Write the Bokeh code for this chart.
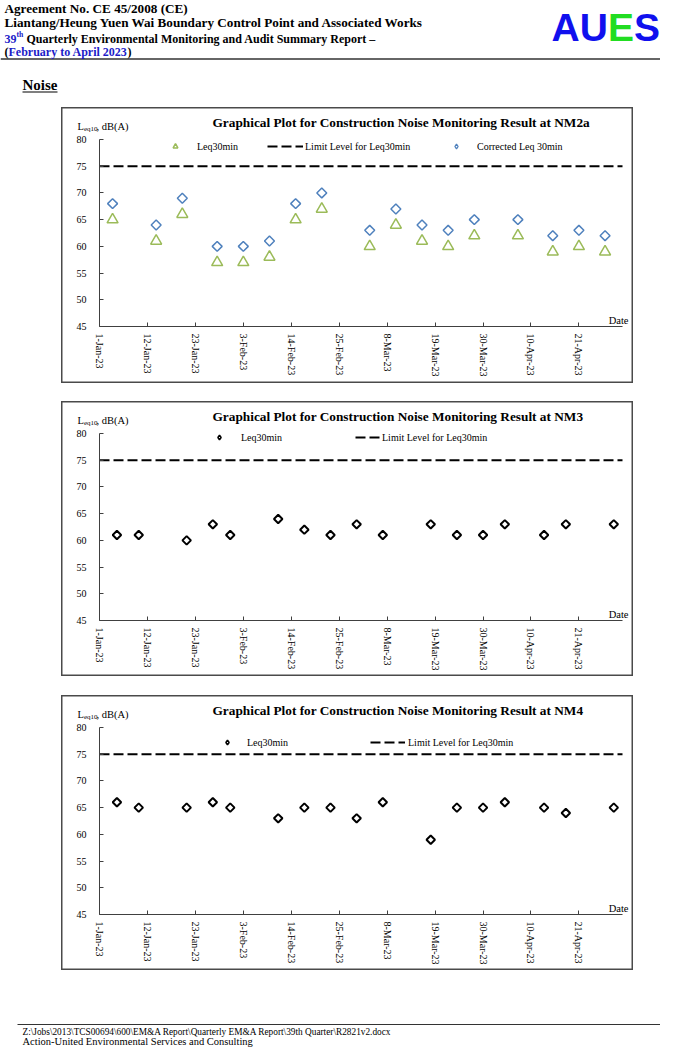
import math
import pandas as pd
from bokeh.plotting import figure
from bokeh.models import Range1d, FixedTicker, Legend, LegendItem, Label, Spacer
from bokeh.layouts import column, row
from bokeh.embed import file_html
from bokeh.resources import INLINE

SERIF = "Liberation Serif"
SANS = "Liberation Sans"

# ---------------- data ----------------
axis_start = "2023-01-01"
axis_end = "2023-05-01"
tick_dates = ["2023-01-01", "2023-01-12", "2023-01-23", "2023-02-03", "2023-02-14",
              "2023-02-25", "2023-03-08", "2023-03-19", "2023-03-30", "2023-04-10",
              "2023-04-21"]
tick_labels = ["1-Jan-23", "12-Jan-23", "23-Jan-23", "3-Feb-23", "14-Feb-23",
               "25-Feb-23", "8-Mar-23", "19-Mar-23", "30-Mar-23", "10-Apr-23",
               "21-Apr-23"]
y_ticks = [45, 50, 55, 60, 65, 70, 75, 80]
y_min, y_max = 45, 80
limit_level = 75

nm2a_dates = ["2023-01-04", "2023-01-14", "2023-01-20", "2023-01-28", "2023-02-03",
              "2023-02-09", "2023-02-15", "2023-02-21", "2023-03-04", "2023-03-10",
              "2023-03-16", "2023-03-22", "2023-03-28", "2023-04-07", "2023-04-15",
              "2023-04-21", "2023-04-27"]
nm2a_leq = [65, 61, 66, 57, 57, 58, 65, 67, 60, 64, 61, 60, 62, 62, 59, 60, 59]
nm2a_corrected = [68, 64, 69, 60, 60, 61, 68, 70, 63, 67, 64, 63, 65, 65, 62, 63, 62]

nm3_dates = ["2023-01-05", "2023-01-10", "2023-01-21", "2023-01-27", "2023-01-31",
             "2023-02-11", "2023-02-17", "2023-02-23", "2023-03-01", "2023-03-07",
             "2023-03-18", "2023-03-24", "2023-03-30", "2023-04-04", "2023-04-13",
             "2023-04-18", "2023-04-29"]
nm3_leq = [61, 61, 60, 63, 61, 64, 62, 61, 63, 61, 63, 61, 61, 63, 61, 63, 63]

nm4_dates = nm3_dates
nm4_leq = [66, 65, 65, 66, 65, 63, 65, 65, 63, 66, 59, 65, 65, 66, 65, 64, 65]

titles = ["Graphical Plot for Construction Noise Monitoring Result at NM2a",
          "Graphical Plot for Construction Noise Monitoring Result at NM3",
          "Graphical Plot for Construction Noise Monitoring Result at NM4"]

# ---------------- helpers ----------------
T0 = pd.Timestamp(axis_start)


def to_days(ds):
    return [(pd.Timestamp(d) - T0).days for d in ds]


X_END = to_days([axis_end])[0]
TICKS = to_days(tick_dates)
AXIS_COLOR = "#404040"
GREEN = "#9BBB59"
BLUE = "#4F81BD"

# chart geometry (pixels inside each boxed chart)
BOX_W = 572
PAD_L, PAD_R, PAD_T = 38, 11, 32
PLOT_W, PLOT_H = 523, 187


def lab(p, x, y, text, size, xo=0, yo=0, bold=False, align="left",
        baseline="middle", color="black", font=SERIF):
    p.add_layout(Label(x=x, y=y, x_offset=xo, y_offset=yo, text=text,
                       text_font=font, text_font_size=f"{size}px",
                       text_font_style="bold" if bold else "normal",
                       text_align=align, text_baseline=baseline,
                       text_color=color))


def one_legend(p, renderer, text, loc_x, loc_y, gw, standoff):
    lg = Legend(items=[LegendItem(label=text, renderers=[renderer])],
                location=(loc_x, loc_y), orientation="horizontal",
                glyph_width=gw, glyph_height=12, label_height=12,
                label_standoff=standoff, padding=0, margin=0, spacing=0,
                border_line_color=None, background_fill_alpha=0,
                inactive_fill_alpha=0,
                label_text_font=SERIF, label_text_font_size="10px",
                label_text_color="black")
    p.add_layout(lg)


def make_chart(title, box_h):
    px_day = PLOT_W / X_END
    px_db = PLOT_H / (y_max - y_min)
    x_lo = -PAD_L / px_day
    x_hi = X_END + PAD_R / px_day
    y_hi = y_max + PAD_T / px_db
    y_lo = y_min - (box_h - PAD_T - PLOT_H) / px_db
    p = figure(width=BOX_W, height=box_h, x_range=Range1d(x_lo, x_hi),
               y_range=Range1d(y_lo, y_hi), output_backend="svg",
               toolbar_location=None, min_border=0)
    p.outline_line_color = "#4a4a4a"
    p.outline_line_width = 2
    p.grid.visible = False
    p.background_fill_color = "white"
    p.border_fill_color = "white"

    xa = p.xaxis[0]
    xa.fixed_location = y_min
    xa.bounds = (0, X_END)
    xa.ticker = FixedTicker(ticks=TICKS)
    xa.major_label_overrides = {t: l for t, l in zip(TICKS, tick_labels)}
    xa.major_label_orientation = -math.pi / 2
    xa.major_tick_in = 4
    xa.major_tick_out = 0
    xa.minor_tick_line_color = None
    xa.major_label_standoff = 7
    ya = p.yaxis[0]
    ya.fixed_location = 0
    ya.bounds = (y_min, y_max)
    ya.ticker = FixedTicker(ticks=y_ticks)
    ya.major_tick_in = 4
    ya.major_tick_out = 0
    ya.minor_tick_line_color = None
    ya.major_label_standoff = 13
    for ax in (xa, ya):
        ax.axis_line_color = AXIS_COLOR
        ax.major_tick_line_color = AXIS_COLOR
        ax.major_label_text_font = SERIF
        ax.major_label_text_font_size = "10px"
        ax.major_label_text_color = "black"

    # title and axis captions
    lab(p, 0, y_max, title, 13.3, xo=113, yo=17, bold=True)
    lab(p, 0, y_max, "L", 10.5, xo=-22, yo=13)
    lab(p, 0, y_max, "eq10", 7, xo=-15.5, yo=10.5)
    lab(p, 0, y_max, ", dB(A)", 10.5, xo=-3, yo=13)
    lab(p, X_END, y_min, "Date", 10.5, xo=6, yo=6, align="right")

    limit = p.line([0, X_END], [limit_level, limit_level], line_color="black",
                   line_width=2, line_dash="10 4")
    return p, limit


def diamond_key(p, xs, ys, color, lw, size):
    # hidden copy of a series, drawn only as its legend key (a true diamond)
    return p.scatter(xs, ys, marker="diamond", size=size, line_color=color,
                     fill_color=None, line_width=lw, visible=False)


# ---------------- chart 1: NM2a ----------------
c1, lim1 = make_chart(titles[0], 276)
x1 = to_days(nm2a_dates)
r_tri = c1.scatter(x1, nm2a_leq, marker="triangle", size=11,
                   line_color=GREEN, fill_color=None, line_width=1.5)
r_dia = c1.scatter(x1, nm2a_corrected, marker="square",
                   angle=math.pi / 4, size=7, line_color=BLUE, fill_color=None,
                   line_width=1.5)
one_legend(c1, r_tri, "Leq30min", 108, 231, 12, 16)
one_legend(c1, lim1, "Limit Level for Leq30min", 206, 231, 36, 2)
one_legend(c1, diamond_key(c1, x1, nm2a_corrected, BLUE, 1.3, 10),
           "Corrected Leq 30min", 389, 231, 12, 15)

# ---------------- chart 2: NM3 ----------------
c2, lim2 = make_chart(titles[1], 275)
x2 = to_days(nm3_dates)
r3 = c2.scatter(x2, nm3_leq, marker="square", angle=math.pi / 4,
                size=6, line_color="black", fill_color=None, line_width=2)
one_legend(c2, diamond_key(c2, x2, nm3_leq, "black", 1.5, 10),
           "Leq30min", 152, 233, 12, 16)
one_legend(c2, lim2, "Limit Level for Leq30min", 294, 233, 25, 2)

# ---------------- chart 3: NM4 ----------------
c3, lim3 = make_chart(titles[2], 275)
x3 = to_days(nm4_dates)
r4 = c3.scatter(x3, nm4_leq, marker="square", angle=math.pi / 4,
                size=6, line_color="black", fill_color=None, line_width=2)
one_legend(c3, diamond_key(c3, x3, nm4_leq, "black", 1.5, 10),
           "Leq30min", 160, 222, 12, 14)
one_legend(c3, lim3, "Limit Level for Leq30min", 309, 222, 35, 3)


# ---------------- page header & footer ----------------
def blank(w, h):
    f = figure(width=w, height=h, x_range=Range1d(0, w), y_range=Range1d(h, 0),
               output_backend="svg", toolbar_location=None, min_border=0,
               x_axis_type=None, y_axis_type=None)
    f.outline_line_color = None
    f.grid.visible = False
    return f


DOC_BLUE = "#1c1cc8"
hdr = blank(660, 107)
lab(hdr, 4, 8, "Agreement No. CE 45/2008 (CE)", 13.2, bold=True)
lab(hdr, 4, 22, "Liantang/Heung Yuen Wai Boundary Control Point and Associated Works", 13.2, bold=True)
lab(hdr, 4, 38, "39", 12, bold=True, color=DOC_BLUE)
lab(hdr, 16, 34, "th", 7.7, bold=True, color=DOC_BLUE)
lab(hdr, 26, 38, "Quarterly Environmental Monitoring and Audit Summary Report \u2013", 12, bold=True)
lab(hdr, 4, 51, "(", 12, bold=True)
lab(hdr, 8, 51, "February to April 2023", 12, bold=True, color=DOC_BLUE)
lab(hdr, 127, 51, ")", 12, bold=True)
hdr.line([0, 660], [58.5, 58.5], line_color="#333333", line_width=1.5)
AU_BLUE = "#1010ee"
AU_GREEN = "#22dd22"
for ch, xx, cc in [("A", 551, AU_BLUE), ("U", 579.2, AU_BLUE), ("E", 607.4, AU_GREEN), ("S", 633.4, AU_BLUE)]:
    lab(hdr, xx, 27, ch, 39, bold=True, color=cc, font=SANS)
lab(hdr, 22, 84, "Noise", 15, bold=True)
hdr.line([22, 57], [91.5, 91.5], line_color="black", line_width=1.2)

ftr = blank(660, 78)
ftr.line([17, 660], [54, 54], line_color="#333333", line_width=1)
lab(ftr, 22, 61, r"Z:\Jobs\2013\TCS00694\600\EM&A Report\Quarterly EM&A Report\39th Quarter\R2821v2.docx", 9.3)
lab(ftr, 22, 71, "Action-United Environmental Services and Consulting", 10.5)

page = column(
    hdr,
    row(Spacer(width=61, height=276), c1),
    Spacer(width=10, height=18),
    row(Spacer(width=61, height=275), c2),
    Spacer(width=10, height=19),
    row(Spacer(width=61, height=275), c3),
    ftr,
)

open("out.html", "w").write(file_html(page, INLINE))
